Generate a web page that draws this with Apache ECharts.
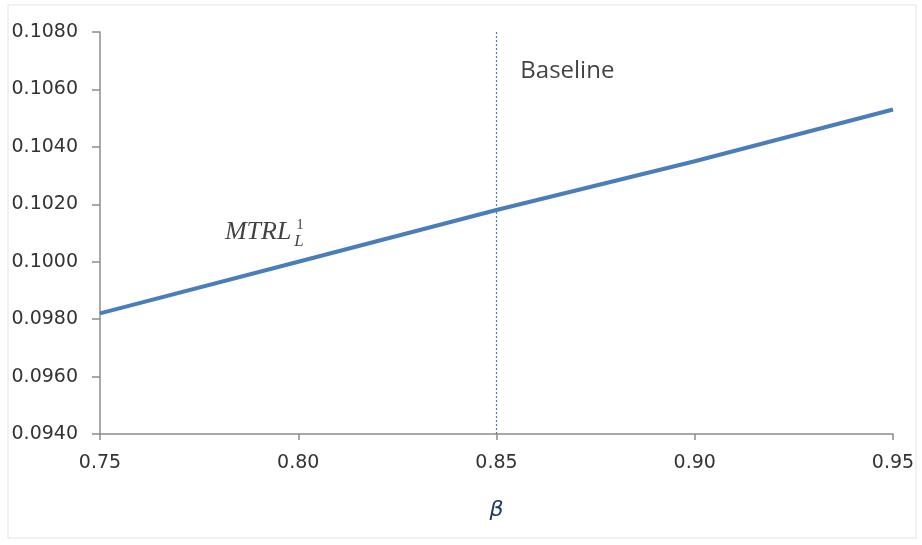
<!DOCTYPE html>
<html>
<head>
<meta charset="UTF-8">
<title></title>
<script src="https://cdn.jsdelivr.net/npm/echarts@6/dist/echarts.min.js"></script>
<style>
  html, body { margin: 0; padding: 0; background: #fff; }
  #chart { width: 922px; height: 545px; }
</style>
</head>
<body>
<div id="chart"></div>
<script type="text/javascript">
// data
var betaValues = [0.75, 0.80, 0.85, 0.90, 0.95];
var mtrlValues = [0.0982, 0.1000, 0.1018, 0.1035, 0.1053];
var baselineBeta = 0.85;
var xTicks = ['0.75', '0.80', '0.85', '0.90', '0.95'];

// text notes placed at data coordinates
var noteBaseline = { text: 'Baseline', x: 0.8560, y: 0.10662 };
var noteMtrl = { text: 'MTRL', x: 0.7815, y: 0.10103 };
var noteSup = { text: '1', x: 0.7995, y: 0.10128 };
var noteSub = { text: 'L', x: 0.7990, y: 0.10072 };

var chart = echarts.init(document.getElementById('chart'));

var lineData = [];
for (var i = 0; i < betaValues.length; i++) {
  lineData.push([betaValues[i], mtrlValues[i]]);
}

function textPoint(note, font, size, italic) {
  return {
    value: [note.x, note.y],
    label: {
      show: true,
      position: 'right',
      distance: 0,
      formatter: note.text,
      fontFamily: font,
      fontSize: size,
      fontStyle: italic ? 'italic' : 'normal',
      color: '#111'
    }
  };
}

var option = {
  animation: false,
  grid: { left: 100, right: 29, top: 32, bottom: 111 },
  graphic: [{
    type: 'rect',
    shape: { x: 8, y: 5, width: 908, height: 533 },
    style: { fill: 'none', stroke: '#e3e3e3', lineWidth: 1 },
    silent: true
  }],
  xAxis: {
    type: 'value',
    min: 0.75,
    max: 0.95,
    interval: 0.05,
    name: 'β',
    nameLocation: 'middle',
    nameGap: 76,
    nameTextStyle: {
      fontFamily: 'DejaVu Sans',
      fontStyle: 'italic',
      fontSize: 22,
      color: '#1f3864',
      verticalAlign: 'middle'
    },
    axisLine: { lineStyle: { color: '#8c8c8c', width: 1.5 } },
    axisTick: { show: true, length: 6, lineStyle: { color: '#8c8c8c', width: 1.5 } },
    axisLabel: {
      margin: 20,
      fontFamily: 'DejaVu Sans',
      fontSize: 19,
      color: '#333',
      formatter: function (v) {
        var idx = Math.round((v - 0.75) / 0.05);
        return xTicks[idx];
      }
    },
    splitLine: { show: false }
  },
  yAxis: {
    type: 'value',
    min: 0.094,
    max: 0.108,
    interval: 0.002,
    axisLine: { show: true, lineStyle: { color: '#8c8c8c', width: 1.5 } },
    axisTick: { show: true, length: 8, lineStyle: { color: '#8c8c8c', width: 1.5 } },
    axisLabel: {
      margin: 22,
      fontFamily: 'DejaVu Sans',
      fontSize: 19,
      color: '#333',
      formatter: function (v) { return v.toFixed(4); }
    },
    splitLine: { show: false }
  },
  series: [
    {
      type: 'line',
      data: lineData,
      showSymbol: false,
      lineStyle: { color: '#4a7ebb', width: 4 },
      markLine: {
        silent: true,
        symbol: 'none',
        label: { show: false },
        lineStyle: { color: '#4a7ebb', type: [2, 2], width: 1.2 },
        data: [{ xAxis: baselineBeta }]
      }
    },
    {
      type: 'scatter',
      symbolSize: 0,
      silent: true,
      data: [
        textPoint(noteBaseline, 'Open Sans', 24, false),
        textPoint(noteMtrl, 'Liberation Serif', 26, true),
        textPoint(noteSup, 'Liberation Serif', 15, false),
        textPoint(noteSub, 'Liberation Serif', 17, true)
      ]
    }
  ]
};

chart.setOption(option);
</script>
</body>
</html>
